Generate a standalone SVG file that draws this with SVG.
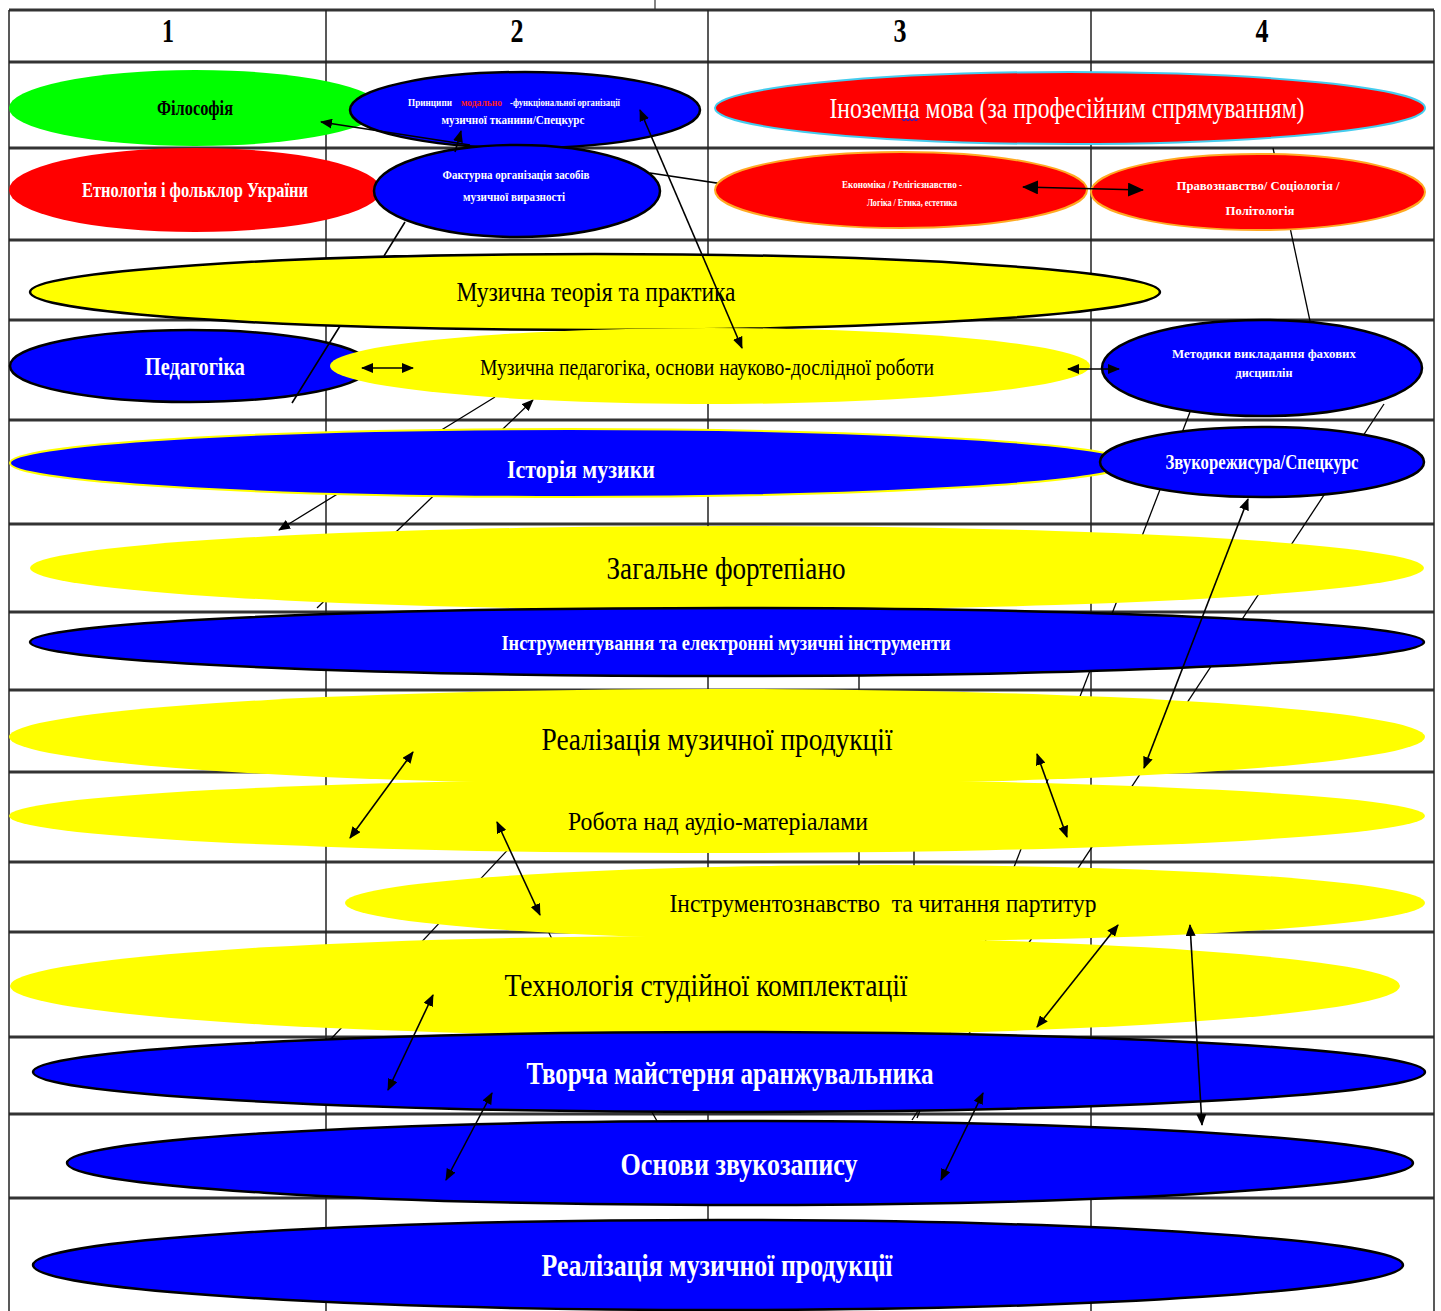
<svg xmlns="http://www.w3.org/2000/svg" width="1441" height="1311" viewBox="0 0 1441 1311">
<style>
  .grid { stroke: #222; stroke-width: 1.5; fill: none; }
  .hline { stroke: #333; stroke-width: 3; }
  .tick { stroke: #333; stroke-width: 1.2; }
  .t { font-family: "Liberation Serif", "DejaVu Serif", serif; text-anchor: middle; }
  .s { font-family: "Liberation Serif", "DejaVu Serif", serif; text-anchor: start; font-weight: bold; }
  .bk { fill: #000; }
  .wh { fill: #fff; font-weight: bold; }
  .hdr { font-weight: bold; font-size: 34px; fill: #000; }
  .yel { fill: #ffff00; }
  .blu { fill: #0000ff; }
  .red { fill: #ff0000; }
  .grn { fill: #00ff00; }
  .ol { stroke: #000; stroke-width: 2.5; }
  .conn { stroke: #000; stroke-width: 1.6; fill: none; }
  .bg { stroke: #000; stroke-width: 1.3; fill: none; }
</style>
<defs>
  <marker id="ah" markerUnits="userSpaceOnUse" markerWidth="12" markerHeight="10" refX="11" refY="5" orient="auto-start-reverse">
    <path d="M0,0 L12,5 L0,10 z" fill="#000"/>
  </marker>
  <marker id="ahb" markerUnits="userSpaceOnUse" markerWidth="16" markerHeight="14" refX="15" refY="7" orient="auto-start-reverse">
    <path d="M0,0 L16,7 L0,14 z" fill="#000"/>
  </marker>
  <clipPath id="clipPravo"><ellipse cx="1258" cy="192" rx="167" ry="38"/></clipPath>
</defs>

<g id="table">
  <line class="tick" x1="655" y1="0" x2="655" y2="10"/>
  <g class="hline">
    <line x1="9" y1="10" x2="1434" y2="10"/>
    <line x1="9" y1="62" x2="1434" y2="62"/>
    <line x1="9" y1="148" x2="1434" y2="148"/>
    <line x1="9" y1="240" x2="1434" y2="240"/>
    <line x1="9" y1="320" x2="1434" y2="320"/>
    <line x1="9" y1="420" x2="1434" y2="420"/>
    <line x1="9" y1="524" x2="1434" y2="524"/>
    <line x1="9" y1="612" x2="1434" y2="612"/>
    <line x1="9" y1="690" x2="1434" y2="690"/>
    <line x1="9" y1="772" x2="1434" y2="772"/>
    <line x1="9" y1="862" x2="1434" y2="862"/>
    <line x1="9" y1="932" x2="1434" y2="932"/>
    <line x1="9" y1="1037" x2="1434" y2="1037"/>
    <line x1="9" y1="1114" x2="1434" y2="1114"/>
    <line x1="9" y1="1198" x2="1434" y2="1198"/>
  </g>
  <g class="grid">
    <line x1="9" y1="10" x2="9" y2="1311"/>
    <line x1="326" y1="10" x2="326" y2="1311"/>
    <line x1="708" y1="10" x2="708" y2="1311"/>
    <line x1="1091" y1="10" x2="1091" y2="1311"/>
    <line x1="1434" y1="10" x2="1434" y2="1311"/>
    <line x1="859" y1="612" x2="859" y2="932"/>
    <line x1="914" y1="772" x2="914" y2="932"/>
  </g>
  <text class="t hdr" x="168" y="42" textLength="12" lengthAdjust="spacingAndGlyphs">1</text>
  <text class="t hdr" x="517" y="42" textLength="13" lengthAdjust="spacingAndGlyphs">2</text>
  <text class="t hdr" x="900" y="42" textLength="13" lengthAdjust="spacingAndGlyphs">3</text>
  <text class="t hdr" x="1262" y="42" textLength="13" lengthAdjust="spacingAndGlyphs">4</text>
</g>

<g id="connectors-behind">
  <path class="bg" d="M1273,148 L1310,321"/>
  <path class="bg" d="M495,397 L279,530" marker-end="url(#ah)"/>
  <path class="bg" d="M317,608 L533,400" marker-end="url(#ah)"/>
  <path class="bg" d="M1190,412 L917,1118"/>
  <path class="bg" d="M1384,404 L912,1120"/>
  <path class="bg" d="M515,842 L330,1040"/>
  <path class="bg" d="M645,1100 L665,1135"/>
  <path class="bg" d="M540,915 L570,975"/>
</g>

<g id="n-filosofia"><ellipse class="grn" cx="195" cy="108" rx="186" ry="38"/>
  <text class="t bk" x="195" y="115" font-size="20" font-weight="bold" textLength="76" lengthAdjust="spacingAndGlyphs">Філософія</text></g>
<g id="n-pryntsypy"><ellipse class="blu ol" cx="525" cy="110" rx="175" ry="38"/>
  <text class="s" fill="#fff" x="408" y="106" font-size="10" textLength="44" lengthAdjust="spacingAndGlyphs">Принципи</text>
  <text class="s" fill="#ff2020" x="461" y="106" font-size="10" textLength="41" lengthAdjust="spacingAndGlyphs">модально</text>
  <text class="s" fill="#fff" x="510" y="106" font-size="10" textLength="110" lengthAdjust="spacingAndGlyphs">-функціональної організації</text>
  <text class="t wh" x="513" y="124" font-size="12" textLength="143" lengthAdjust="spacingAndGlyphs">музичної тканини/Спецкурс</text></g>
<g id="n-inozemna"><ellipse class="red" cx="1070" cy="108" rx="355" ry="36" stroke="#44ccee" stroke-width="2"/>
  <text class="t" fill="#fff" x="1067" y="118" font-size="30" textLength="475" lengthAdjust="spacingAndGlyphs">Іноземна мова  (за професійним спрямуванням)</text>
  <path d="M902,119 q2,3 4,0 q2,3 4,0 q2,3 4,0 q2,3 4,0" stroke="#2222cc" stroke-width="1.3" fill="none"/></g>
<g id="n-etnolohiia"><ellipse class="red" cx="195" cy="190" rx="186" ry="42"/>
  <text class="t wh" x="195" y="197" font-size="21" textLength="226" lengthAdjust="spacingAndGlyphs">Етнологія і фольклор України</text></g>

<g id="connectors-mid">
  <path class="conn" d="M321,122 L470,145 M650,173 L870,206" marker-start="url(#ah)" marker-end="url(#ah)"/>
</g>

<g id="n-fakturna"><ellipse class="blu ol" cx="517" cy="191" rx="143" ry="46"/>
  <text class="t wh" x="516" y="179" font-size="12" textLength="147" lengthAdjust="spacingAndGlyphs">Фактурна організація засобів</text>
  <text class="t wh" x="514" y="201" font-size="12" textLength="102" lengthAdjust="spacingAndGlyphs">музичної виразності</text></g>
<g id="n-ekonomika"><ellipse class="red" cx="901" cy="190" rx="186" ry="38" stroke="#ffaa22" stroke-width="2"/>
  <text class="t wh" x="902" y="188" font-size="11" textLength="120" lengthAdjust="spacingAndGlyphs">Економіка / Релігієзнавство -</text>
  <text class="t wh" x="912" y="206" font-size="11" textLength="90" lengthAdjust="spacingAndGlyphs">Логіка / Етика, естетика</text></g>
<g id="n-pravoznavstvo"><ellipse class="red" cx="1258" cy="192" rx="167" ry="38" stroke="#ffaa22" stroke-width="2"/>
  <g clip-path="url(#clipPravo)">
  <text class="t wh" x="1258" y="190" font-size="13" textLength="163" lengthAdjust="spacingAndGlyphs">Правознавство/ Соціологія /</text>
  <text class="t wh" x="1260" y="215" font-size="13" textLength="69" lengthAdjust="spacingAndGlyphs">Політологія</text></g></g>
<g id="n-teoriia"><ellipse class="yel ol" cx="595" cy="292" rx="565" ry="38"/>
  <text class="t bk" x="596" y="301" font-size="28" textLength="279" lengthAdjust="spacingAndGlyphs">Музична теорія та практика</text></g>
<g id="n-pedahohika"><ellipse class="blu ol" cx="190" cy="366" rx="180" ry="36"/>
  <text class="t wh" x="195" y="375" font-size="26" textLength="100" lengthAdjust="spacingAndGlyphs">Педагогіка</text></g>
<g id="n-muz-ped"><ellipse class="yel" cx="710" cy="366" rx="380" ry="38"/>
  <text class="t bk" x="707" y="375" font-size="24" textLength="454" lengthAdjust="spacingAndGlyphs">Музична педагогіка, основи науково-дослідної роботи</text></g>
<g id="n-metodyky"><ellipse class="blu ol" cx="1262" cy="368" rx="160" ry="48"/>
  <text class="t wh" x="1264" y="358" font-size="13" textLength="184" lengthAdjust="spacingAndGlyphs">Методики викладання фахових</text>
  <text class="t wh" x="1264" y="377" font-size="13" textLength="57" lengthAdjust="spacingAndGlyphs">дисциплін</text></g>
<g id="n-istoriia"><ellipse class="blu" cx="570" cy="463" rx="560" ry="34" stroke="#ffff00" stroke-width="2"/>
  <text class="t wh" x="581" y="478" font-size="26" textLength="148" lengthAdjust="spacingAndGlyphs">Історія музики</text></g>
<g id="n-zvukorezhysura"><ellipse class="blu ol" cx="1262" cy="462" rx="162" ry="35"/>
  <text class="t wh" x="1262" y="469" font-size="21" textLength="193" lengthAdjust="spacingAndGlyphs">Звукорежисура/Спецкурс</text></g>
<g id="n-fortepiano"><ellipse class="yel" cx="727" cy="568" rx="697" ry="42"/>
  <text class="t bk" x="726" y="579" font-size="32" textLength="239" lengthAdjust="spacingAndGlyphs">Загальне фортепіано</text></g>
<g id="n-instrumentuvannia"><ellipse class="blu ol" cx="727" cy="642" rx="697" ry="34"/>
  <text class="t wh" x="726" y="650" font-size="22" textLength="449" lengthAdjust="spacingAndGlyphs">Інструментування та електронні музичні інструменти</text></g>
<g id="n-realizatsiia-1"><ellipse class="yel" cx="717" cy="737" rx="708" ry="48"/>
  <text class="t bk" x="717" y="750" font-size="32" textLength="351" lengthAdjust="spacingAndGlyphs">Реалізація музичної продукції</text></g>
<g id="n-robota"><ellipse class="yel" cx="717" cy="816" rx="708" ry="37"/>
  <text class="t bk" x="718" y="830" font-size="26" textLength="300" lengthAdjust="spacingAndGlyphs">Робота над аудіо-матеріалами</text></g>
<g id="n-instrumentoznavstvo"><ellipse class="yel" cx="885" cy="903" rx="540" ry="38"/>
  <text class="t bk" x="883" y="912" font-size="26" textLength="427" lengthAdjust="spacingAndGlyphs" xml:space="preserve">Інструментознавство  та читання партитур</text></g>
<g id="n-tekhnolohiia"><ellipse class="yel" cx="705" cy="986" rx="695" ry="50"/>
  <text class="t bk" x="706" y="996" font-size="32" textLength="403" lengthAdjust="spacingAndGlyphs">Технологія студійної комплектації</text></g>
<g id="n-tvorcha"><ellipse class="blu ol" cx="729" cy="1072" rx="696" ry="40"/>
  <text class="t wh" x="730" y="1084" font-size="32" textLength="407" lengthAdjust="spacingAndGlyphs">Творча майстерня аранжувальника</text></g>
<g id="n-osnovy"><ellipse class="blu ol" cx="740" cy="1163" rx="673" ry="42"/>
  <text class="t wh" x="739" y="1175" font-size="32" textLength="237" lengthAdjust="spacingAndGlyphs">Основи звукозапису</text></g>
<g id="n-realizatsiia-2"><ellipse class="blu ol" cx="718" cy="1265" rx="685" ry="45"/>
  <text class="t wh" x="717" y="1276" font-size="32" textLength="351" lengthAdjust="spacingAndGlyphs">Реалізація музичної продукції</text></g>

<g id="connectors">
  <path class="conn" d="M455,152 L461,131" marker-end="url(#ah)"/>
  <path class="conn" d="M640,110 L742,348" marker-start="url(#ah)" marker-end="url(#ah)"/>
  <path class="conn" d="M1023,187 L1143,190" stroke-width="3" marker-start="url(#ahb)" marker-end="url(#ahb)"/>
  <path class="conn" d="M405,222 L384,256 M340,326 L292,403"/>
  <path class="conn" d="M362,368 L413,368" stroke-width="2" marker-start="url(#ah)" marker-end="url(#ah)"/>
  <path class="conn" d="M1068,369 L1119,369" stroke-width="2" marker-start="url(#ah)" marker-end="url(#ah)"/>
  <path class="conn" d="M1248,499 L1144,768" marker-start="url(#ah)" marker-end="url(#ah)"/>
  <path class="conn" d="M413,752 L350,838" marker-start="url(#ah)" marker-end="url(#ah)"/>
  <path class="conn" d="M1037,754 L1067,837" marker-start="url(#ah)" marker-end="url(#ah)"/>
  <path class="conn" d="M497,822 L540,915" marker-start="url(#ah)" marker-end="url(#ah)"/>
  <path class="conn" d="M1118,925 L1037,1027" marker-start="url(#ah)" marker-end="url(#ah)"/>
  <path class="conn" d="M1190,925 L1202,1125" marker-start="url(#ah)" marker-end="url(#ah)"/>
  <path class="conn" d="M433,995 L388,1090" marker-start="url(#ah)" marker-end="url(#ah)"/>
  <path class="conn" d="M492,1093 L446,1180" marker-start="url(#ah)" marker-end="url(#ah)"/>
  <path class="conn" d="M983,1093 L941,1180" marker-start="url(#ah)" marker-end="url(#ah)"/>
</g>
</svg>
